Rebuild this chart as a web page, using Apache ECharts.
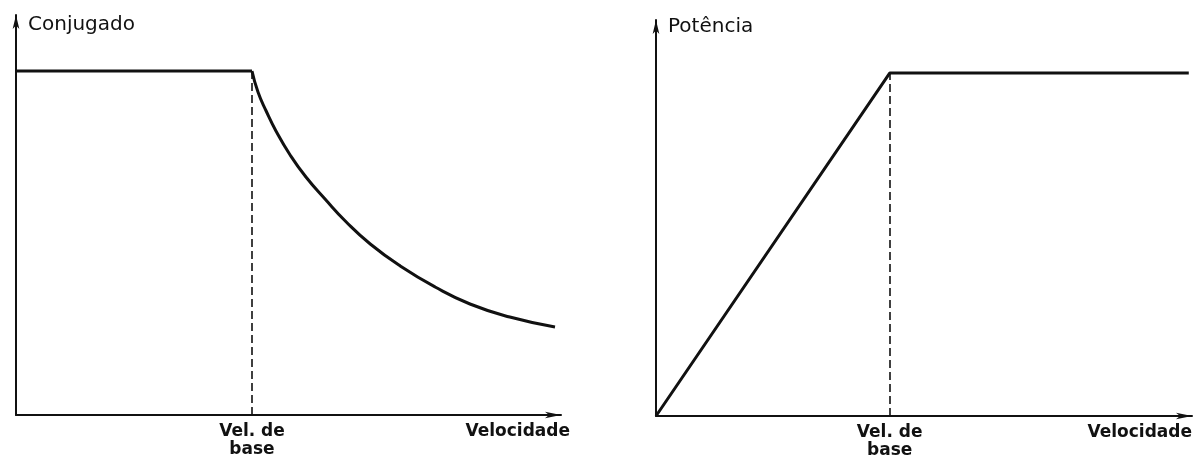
<!DOCTYPE html>
<html>
<head>
<meta charset="utf-8">
<script src="https://cdn.jsdelivr.net/npm/echarts@6/dist/echarts.min.js"></script>
<style>html,body{margin:0;padding:0;background:#fff}#c{width:1195px;height:464px}</style>
</head>
<body>
<div id="c"></div>
<script>
// Left panel: torque (Conjugado) vs speed, units 0-100 of axis length
const torqueFlatX = [0, 43.3];
const torqueFlatY = [86, 86];
const torqueCurveX = [43.3, 44.4, 45.9, 47.7, 50.3, 53.2, 56.7, 60.6, 65.0, 70.5, 76.9, 83.3, 90.6, 98.9];
const torqueCurveY = [86, 80.75, 76, 71, 65, 59.5, 54, 48.25, 42.75, 37.25, 32, 27.75, 24.5, 22];
const torqueBase = 43.3;
// Right panel: power (Potência) vs speed
const powerX = [0, 43.6, 99.4];
const powerY = [0, 86.6, 86.6];
const powerBase = 43.6;
// Texts
const leftTitle = 'Conjugado';
const rightTitle = 'Potência';
const xName = 'Velocidade';
const baseLabel = 'Vel. de\nbase';

const ink = '#111';
const font = 'DejaVu Sans';
const zip = (a, b) => a.map((v, i) => [v, b[i]]);

function xAxis(gi, gap) {
  return {
    type: 'value', gridIndex: gi, min: 0, max: 100,
    name: xName, nameLocation: 'end', nameGap: gap,
    nameTextStyle: { color: ink, fontFamily: font, fontSize: 17, fontWeight: 'bold', align: 'right', verticalAlign: 'top', padding: [8, 0, 0, 0] },
    axisLine: { lineStyle: { color: ink, width: 2 }, symbol: ['none', 'arrow'], symbolSize: [5, 16] },
    axisTick: { show: false }, axisLabel: { show: false }, splitLine: { show: false }
  };
}
function yAxis(gi, name, gap) {
  return {
    type: 'value', gridIndex: gi, min: 0, max: 100,
    name: name, nameLocation: 'end', nameGap: gap,
    nameTextStyle: { color: ink, fontFamily: font, fontSize: 20, align: 'left', verticalAlign: 'middle', padding: [0, 0, 0, 12] },
    axisLine: { lineStyle: { color: ink, width: 2 }, symbol: ['none', 'arrow'], symbolSize: [5, 14] },
    axisTick: { show: false }, axisLabel: { show: false }, splitLine: { show: false }
  };
}
function baseMark(base, top) {
  return {
    silent: true, symbol: 'none',
    lineStyle: { color: ink, width: 1.6, type: [8, 4] },
    label: { show: true, position: 'start', formatter: baseLabel, distance: 8, color: ink, fontFamily: font, fontSize: 17, fontWeight: 'bold', lineHeight: 18, align: 'center' },
    data: [[{ coord: [base, 0] }, { coord: [base, top] }]]
  };
}

const chart = echarts.init(document.getElementById('c'), null, { renderer: 'canvas' });
chart.setOption({
  backgroundColor: '#fff',
  animation: false,
  grid: [
    { left: 16, top: 15, width: 545, height: 400 },
    { left: 656, top: 20, width: 537, height: 396 }
  ],
  xAxis: [xAxis(0, 9), xAxis(1, 0)],
  yAxis: [yAxis(0, leftTitle, -10), yAxis(1, rightTitle, -7)],
  series: [
    { type: 'line', xAxisIndex: 0, yAxisIndex: 0, data: zip(torqueFlatX, torqueFlatY), showSymbol: false, lineStyle: { color: ink, width: 3 }, markLine: baseMark(torqueBase, torqueFlatY[0]) },
    { type: 'line', xAxisIndex: 0, yAxisIndex: 0, data: zip(torqueCurveX, torqueCurveY), showSymbol: false, smooth: 0.5, lineStyle: { color: ink, width: 3 } },
    { type: 'line', xAxisIndex: 1, yAxisIndex: 1, data: zip(powerX, powerY), showSymbol: false, lineStyle: { color: ink, width: 3 }, markLine: baseMark(powerBase, powerY[1]) }
  ]
});
</script>
</body>
</html>
